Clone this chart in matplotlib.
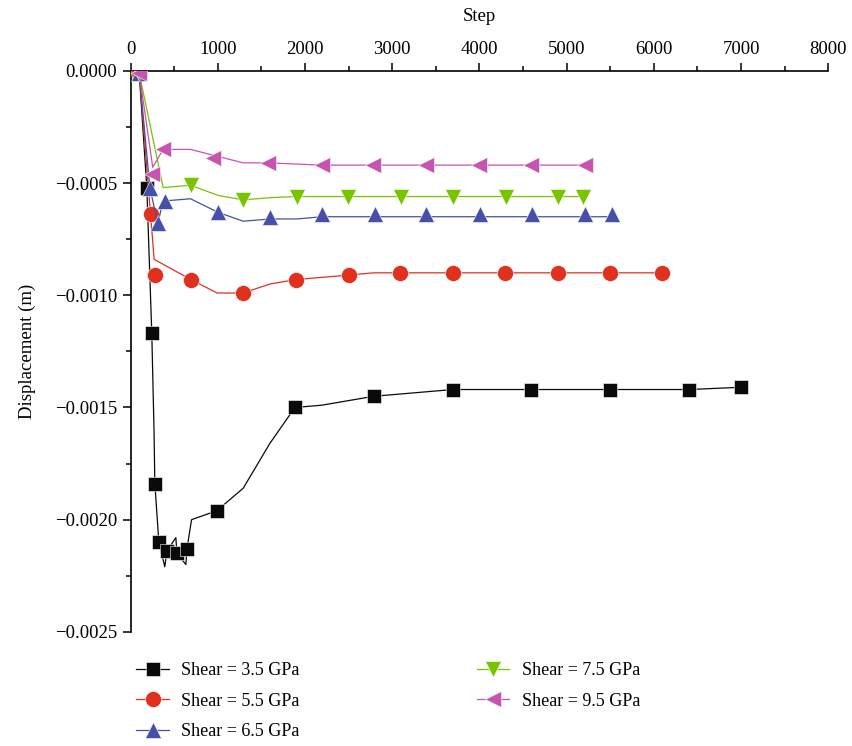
import matplotlib.pyplot as plt
from matplotlib.ticker import MultipleLocator, FuncFormatter

plt.rcParams['font.family'] = ['Liberation Serif', 'DejaVu Serif']

labels = ["Shear = 3.5 GPa", "Shear = 5.5 GPa", "Shear = 6.5 GPa",
          "Shear = 7.5 GPa", "Shear = 9.5 GPa"]
colors = ["#0a0a0a", "#e0301e", "#4650a8", "#78c400", "#c654b0"]
markers = ["s", "o", "^", "v", "<"]
msizes = [10.5, 11.5, 12, 12, 12]

# line vertices (step, displacement in m)
line_x_35 = [100, 187, 244, 270, 279, 325, 393, 417, 520, 532, 635, 647, 700,
             990, 1292, 1598, 1885, 2191, 2792, 3699, 4594, 5500, 6405, 7000]
line_y_35 = [-0.00001, -0.00052, -0.00117, -0.00161, -0.00184, -0.00210, -0.00221,
             -0.00214, -0.00208, -0.00215, -0.00220, -0.00213, -0.00200, -0.00196,
             -0.00186, -0.00166, -0.00150, -0.00149, -0.00145, -0.00142, -0.00142,
             -0.00142, -0.00142, -0.00141]
line_x_55 = [100, 230, 271, 692, 994, 1289, 1598, 1897, 2505, 2784, 3093, 3699,
             4295, 4903, 5500, 6097]
line_y_55 = [-0.00001, -0.00064, -0.00084, -0.00093, -0.00099, -0.00099, -0.00095,
             -0.00093, -0.00091, -0.00090, -0.00090, -0.00090, -0.00090, -0.00090,
             -0.00090, -0.00090]
line_x_65 = [100, 222, 313, 374, 688, 1002, 1292, 1600, 1904, 2197, 2805, 3390,
             4010, 4606, 5214, 5524]
line_y_65 = [-0.00001, -0.00052, -0.00068, -0.00058, -0.00057, -0.00063, -0.00067,
             -0.00066, -0.00066, -0.00065, -0.00065, -0.00065, -0.00065, -0.00065,
             -0.00065, -0.00065]
line_x_75 = [100, 374, 688, 1005, 1292, 1598, 1904, 2497, 3102, 3699, 4306, 4906, 5186]
line_y_75 = [-0.00001, -0.00052, -0.00051, -0.000555, -0.000575, -0.000565, -0.00056,
             -0.00056, -0.00056, -0.00056, -0.00056, -0.00056, -0.00056]
line_x_95 = [100, 255, 374, 688, 1292, 1579, 2191, 2783, 3390, 3998, 4594, 5214]
line_y_95 = [-0.00001, -0.00043, -0.00035, -0.00035, -0.00041, -0.00041, -0.00042,
             -0.00042, -0.00042, -0.00042, -0.00042, -0.00042]

# symbol positions
mark_x_35 = [100, 187, 244, 279, 325, 417, 532, 647, 990, 1885, 2792, 3699, 4594,
             5500, 6405, 7000]
mark_y_35 = [-0.00001, -0.00052, -0.00117, -0.00184, -0.00210, -0.00214, -0.00215,
             -0.00213, -0.00196, -0.00150, -0.00145, -0.00142, -0.00142, -0.00142,
             -0.00142, -0.00141]
mark_x_55 = [100, 230, 279, 692, 1289, 1897, 2505, 3093, 3699, 4295, 4903, 5500, 6097]
mark_y_55 = [-0.00001, -0.00064, -0.00091, -0.00093, -0.00099, -0.00093, -0.00091,
             -0.00090, -0.00090, -0.00090, -0.00090, -0.00090, -0.00090]
mark_x_65 = [100, 222, 313, 394, 1002, 1600, 2197, 2805, 3390, 4010, 4606, 5214, 5524]
mark_y_65 = [-0.00001, -0.00052, -0.00068, -0.00058, -0.00063, -0.00065, -0.00064,
             -0.00064, -0.00064, -0.00064, -0.00064, -0.00064, -0.00064]
mark_x_75 = [100, 688, 1292, 1904, 2497, 3102, 3699, 4306, 4906, 5186]
mark_y_75 = [-0.00001, -0.00051, -0.000575, -0.00056, -0.00056, -0.00056, -0.00056,
             -0.00056, -0.00056, -0.00056]
mark_x_95 = [100, 241, 374, 948, 1579, 2191, 2783, 3390, 3998, 4594, 5214]
mark_y_95 = [-0.00001, -0.00046, -0.00035, -0.00039, -0.00041, -0.00042, -0.00042,
             -0.00042, -0.00042, -0.00042, -0.00042]

lines = [(line_x_35, line_y_35), (line_x_55, line_y_55), (line_x_65, line_y_65),
         (line_x_75, line_y_75), (line_x_95, line_y_95)]
marks = [(mark_x_35, mark_y_35), (mark_x_55, mark_y_55), (mark_x_65, mark_y_65),
         (mark_x_75, mark_y_75), (mark_x_95, mark_y_95)]

fig = plt.figure(figsize=(8.53, 7.46), dpi=100)
ax = fig.add_axes([0.153, 0.153, 0.818, 0.752])

for i in range(5):
    lx, ly = lines[i]
    mx, my = marks[i]
    ax.plot(lx, ly, color=colors[i], lw=0.9, zorder=2 + i)
    ax.plot(mx, my, linestyle="none", marker=markers[i], ms=msizes[i],
            color=colors[i], mec="white", mew=0.4, zorder=2 + i)
    # legend proxy
    ax.plot([], [], color=colors[i], lw=0.9, marker=markers[i], ms=msizes[i],
            mec="white", mew=0.4, label=labels[i])

ax.set_xlim(0, 8000)
ax.set_ylim(-0.0025, 0)
ax.xaxis.tick_top()
ax.xaxis.set_label_position("top")
ax.xaxis.set_major_locator(MultipleLocator(1000))
ax.xaxis.set_minor_locator(MultipleLocator(500))
ax.yaxis.set_major_locator(MultipleLocator(0.0005))
ax.yaxis.set_minor_locator(MultipleLocator(0.00025))
ax.yaxis.set_major_formatter(FuncFormatter(lambda v, p: ("%.4f" % v).replace("-", "\u2212")))
ax.spines["right"].set_visible(False)
ax.spines["bottom"].set_visible(False)
ax.spines["top"].set_linewidth(1.2)
ax.spines["left"].set_linewidth(1.2)
ax.tick_params(which="major", length=6, width=1.1, labelsize=13.5, direction="out")
ax.tick_params(which="minor", length=3.5, width=1.1, direction="out")
ax.set_xlabel("Step", fontsize=13.5, labelpad=14)
ax.set_ylabel("Displacement (m)", fontsize=13.5, labelpad=14)

handles, labs = ax.get_legend_handles_labels()
ax.legend(handles, labs, ncol=2, loc="upper left", bbox_to_anchor=(-0.015, -0.025),
          frameon=False, fontsize=13, handlelength=1.8, handletextpad=0.7,
          columnspacing=9.8, labelspacing=0.75)

fig.savefig("out.png", dpi=100)
